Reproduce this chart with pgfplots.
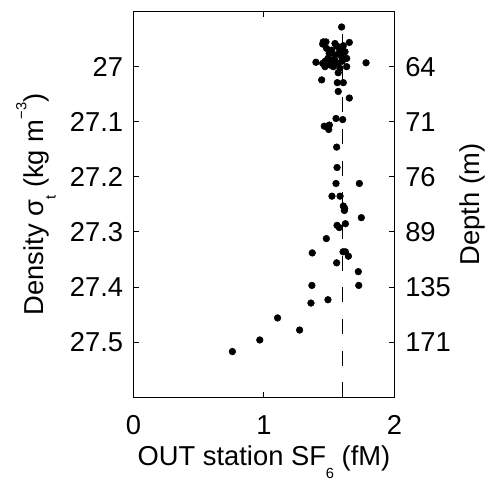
\documentclass[border=0pt]{standalone}
\usepackage{pgfplots}
\pgfplotsset{compat=1.18}
\usepackage{fontspec}
\setmainfont{Liberation Sans}
\newcommand{\lo}[1]{\raisebox{-0.45em}{\fontsize{11}{11}\selectfont #1}}
\newcommand{\hi}[1]{\raisebox{0.62em}{\fontsize{11}{11}\selectfont #1}}

\begin{document}
\begin{tikzpicture}
\pgfplotsset{
  every axis/.append style={
    scale only axis, width=195.75pt, height=289.3pt,
    xmin=0, xmax=2, ymin=26.9, ymax=27.6, y dir=reverse,
    font=\fontsize{20.5}{24}\selectfont,
    tick align=inside, major tick length=4.3pt,
    axis line style={line width=0.75pt},
    every tick/.style={line width=0.75pt, black},
    ytick={27,27.1,27.2,27.3,27.4,27.5},
  }
}
% left axis: density, SF6 data
\begin{axis}[
  xtick={0,1,2}, xticklabels={0,1,2},
  xtick pos=both, xticklabel pos=bottom,
  ytick pos=both, yticklabel pos=left,
  yticklabels={27,27.1,27.2,27.3,27.4,27.5},
  xticklabel style={anchor=north, inner sep=0pt, yshift=-13.3pt},
  yticklabel style={anchor=east, inner sep=0pt, xshift=-7.6pt},
  xlabel={OUT station SF\lo{6} (fM)},
  xlabel style={at={(axis description cs:0.5,-0.1781)}, anchor=base, inner sep=0pt},
  ylabel={Density σ\lo{t} (kg m\hi{−3})},
  ylabel style={at={(axis description cs:-0.3456,0.5)}, anchor=base, inner sep=0pt},
]
% mean line
\addplot[black, line width=0.75pt, dash pattern=on 11.25pt off 12.5pt] coordinates {
  (1.6,27.6) (1.6,26.928)
};
\addplot[only marks, mark=*, mark size=2.5pt, black] coordinates {
  (1.595,26.928) (1.454,26.955) (1.475,26.955) (1.450,26.959) (1.544,26.958)
  (1.654,26.956) (1.608,26.962) (1.480,26.967) (1.519,26.970) (1.582,26.968)
  (1.621,26.973) (1.500,26.976) (1.544,26.979) (1.634,26.985) (1.595,26.982)
  (1.398,26.992) (1.450,26.994) (1.467,27.000) (1.506,26.997) (1.531,27.000)
  (1.569,26.994) (1.634,27.000) (1.582,27.003) (1.544,26.989) (1.782,26.993)
  (1.520,26.988) (1.560,26.963) (1.600,26.990) (1.490,26.985) (1.470,26.990)
  (1.575,26.975)
  (1.569,27.011) (1.442,27.024) (1.562,27.029) (1.608,27.029) (1.569,27.045)
  (1.654,27.057)
  (1.552,27.094) (1.603,27.096) (1.462,27.108) (1.501,27.106) (1.496,27.114)
  (1.557,27.146) (1.560,27.183) (1.552,27.212) (1.731,27.212) (1.521,27.235)
  (1.583,27.235) (1.608,27.253) (1.618,27.257) (1.616,27.261) (1.746,27.274)
  (1.560,27.288) (1.577,27.292) (1.624,27.285) (1.478,27.312) (1.370,27.338)
  (1.606,27.336) (1.624,27.336) (1.647,27.344) (1.557,27.356) (1.723,27.372)
  (1.367,27.397) (1.726,27.397) (1.360,27.429) (1.490,27.423) (1.104,27.456)
  (1.273,27.478) (0.968,27.496) (0.758,27.517)
};
\coordinate (bbl) at (axis description cs:-0.5115,-0.2144);
\coordinate (btr) at (axis description cs:1.366,1.030);
\end{axis}
% right axis: depth
\begin{axis}[
  xtick=\empty,
  ytick pos=right, yticklabel pos=right,
  yticklabels={64,71,76,89,135,171},
  yticklabel style={anchor=west, inner sep=0pt, xshift=7.9pt},
  ylabel={Depth (m)},
  ylabel style={at={(axis description cs:1.3276,0.5)}, anchor=base, inner sep=0pt},
]
\end{axis}
\pgfresetboundingbox
\path[use as bounding box] (bbl) rectangle (btr);
\end{tikzpicture}
\end{document}
